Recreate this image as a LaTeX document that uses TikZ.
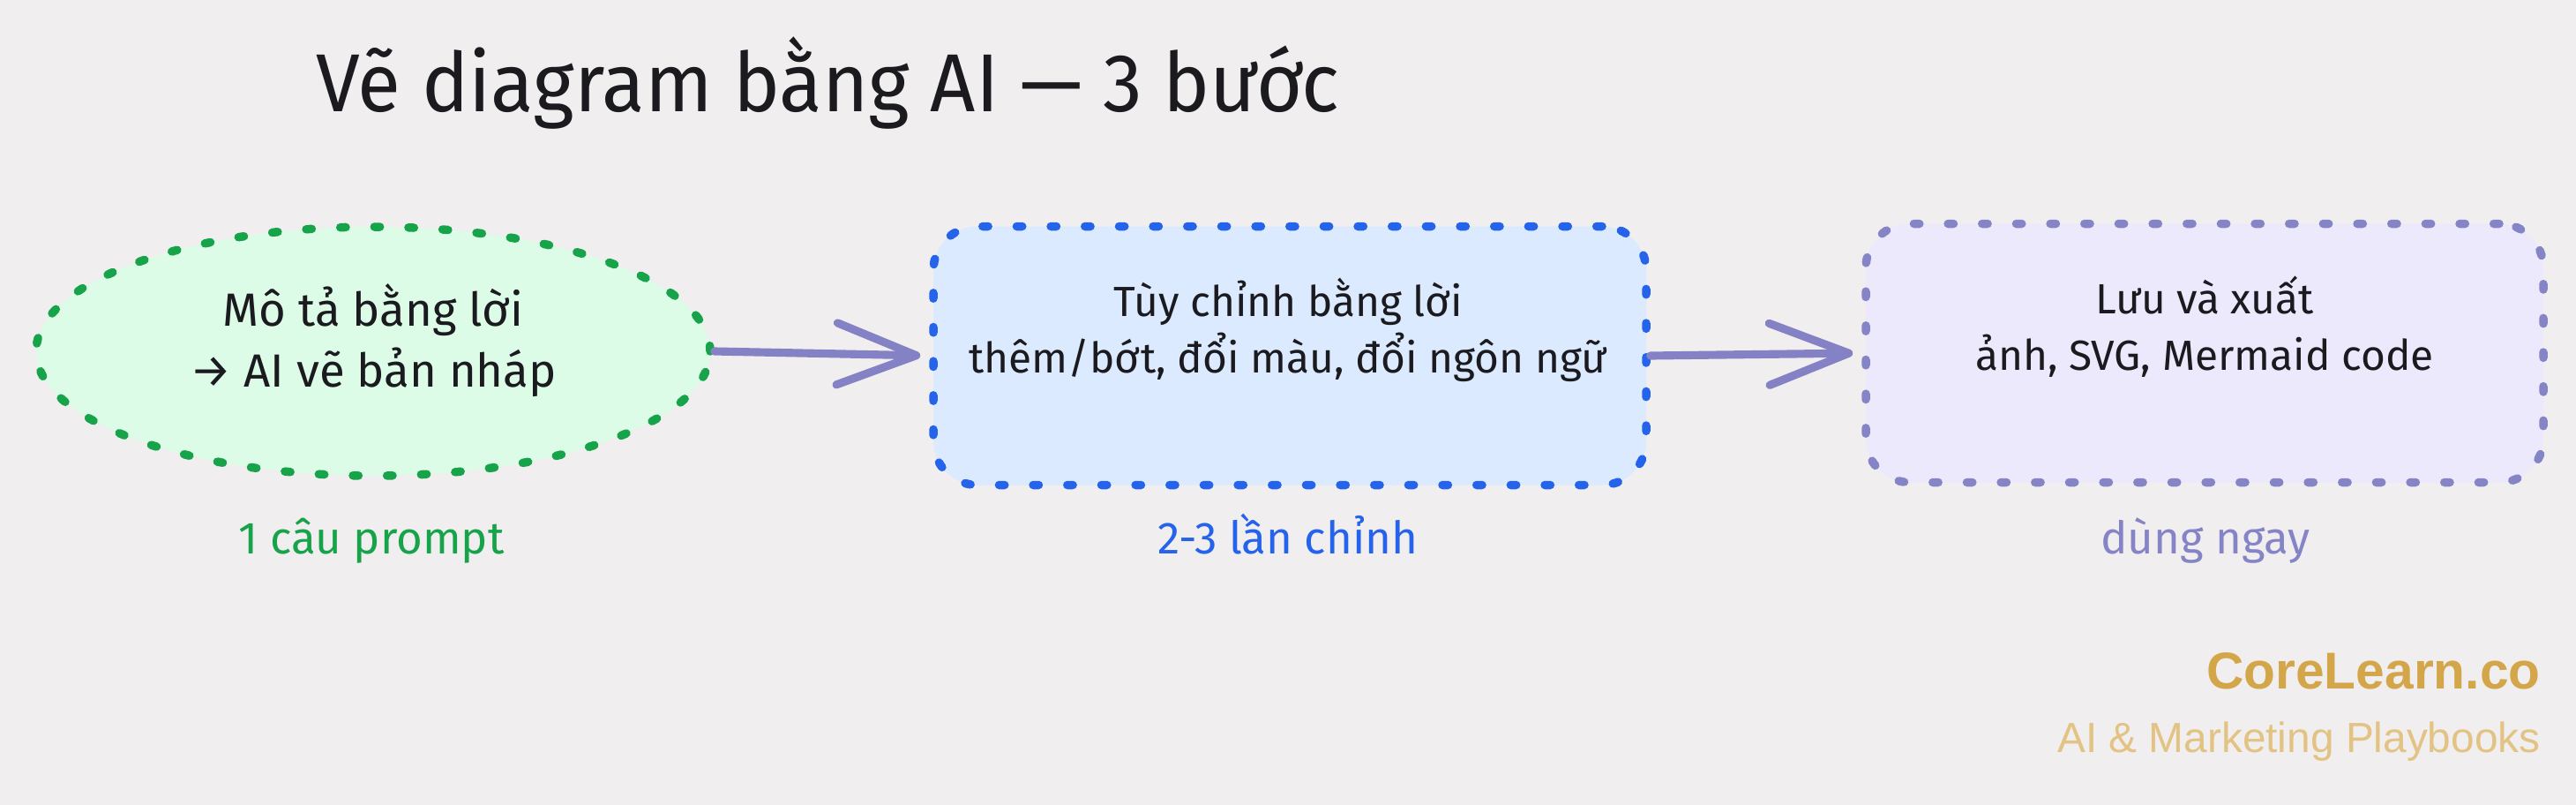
\documentclass[tikz,border=0pt]{standalone}
\usepackage{fontspec}
\setmainfont{Fira Sans}
\newfontfamily\titlefont[FakeStretch=0.96]{Fira Sans}
\newfontfamily\markfont{Liberation Sans}
\usetikzlibrary{shapes.geometric,arrows.meta}
\definecolor{bgcol}{HTML}{F0EEEF}
\definecolor{inkcol}{HTML}{1B1A1F}
\definecolor{greencol}{HTML}{16A34A}
\definecolor{greenfill}{HTML}{DCFCE7}
\definecolor{bluecol}{HTML}{2563EB}
\definecolor{bluefill}{HTML}{DBEAFE}
\definecolor{lilaccol}{HTML}{8584C6}
\definecolor{lilacfill}{HTML}{ECE9FD}
\definecolor{arrowcol}{HTML}{8482C4}
\definecolor{goldcol}{HTML}{D4A64A}
\definecolor{lightgold}{HTML}{E2C384}
\begin{document}
\begin{tikzpicture}[
    dotline/.style={line width=2.7pt, line cap=round, dash pattern=on 1.8pt off 9.2pt},
    stepbox/.style={rounded corners=0.5cm, minimum height=2.93cm, inner sep=0pt},
    steptext/.style={align=center, text=inkcol},
    steplabel/.style={anchor=base, font=\fontsize{14.5}{17}\selectfont},
    flow/.style={draw=arrowcol, line width=2.6pt, line cap=round, shorten >=1mm,
      -{Straight Barb[length=9mm,width=7mm,round]}}
  ]
  \fill[bgcol] (0,0) rectangle (29.2,-9.12);
  \useasboundingbox (0,0) rectangle (29.2,-9.12);

  \node[anchor=base west, text=inkcol, font=\titlefont\fontsize{26.5}{30}\selectfont] (title) at (3.46,-1.26) {Vẽ diagram bằng AI — 3 bước};

  % the three steps
  \node[ellipse, draw=greencol, fill=greenfill, dotline, minimum width=7.64cm, minimum height=2.82cm, inner sep=0pt] (draft) at (4.23,-3.98) {};
  \node[steptext, font=\fontsize{15}{19.6}\selectfont] (drafttext) at (4.23,-3.86) {Mô tả bằng lời\\→ AI vẽ bản nháp};

  \node[stepbox, draw=bluecol, fill=bluefill, dotline, minimum width=8.08cm] (refine) at (14.62,-4.03) {};
  \node[steptext, font=\fontsize{13.6}{18.4}\selectfont] (refinetext) at (14.60,-3.74) {Tùy chỉnh bằng lời\\thêm/bớt, đổi màu, đổi ngôn ngữ};

  \node[stepbox, draw=lilaccol, fill=lilacfill, dotline, minimum width=7.68cm] (finish) at (24.99,-4.00) {};
  \node[steptext, font=\fontsize{13.6}{18.4}\selectfont] (finishtext) at (24.99,-3.70) {Lưu và xuất\\ảnh, SVG, Mermaid code};

  \draw[flow] (draft.east) -- (refine.west);
  \draw[flow] (refine.east) -- (finish.west);

  % notes under the steps
  \node[steplabel, text=greencol] (draftnote) at (4.21,-6.27) {1 câu prompt};
  \node[steplabel, text=bluecol] (refinenote) at (14.60,-6.27) {2-3 lần chỉnh};
  \node[steplabel, text=lilaccol] (finishnote) at (25.00,-6.27) {dùng ngay};

  \node[anchor=base east, text=goldcol, font=\markfont\bfseries\fontsize{16.7}{20}\selectfont] (brand) at (28.92,-7.80) {CoreLearn.co};
  \node[anchor=base east, text=lightgold, font=\markfont\fontsize{13.6}{16}\selectfont] (tagline) at (28.92,-8.52) {AI \& Marketing Playbooks};
\end{tikzpicture}
\end{document}
